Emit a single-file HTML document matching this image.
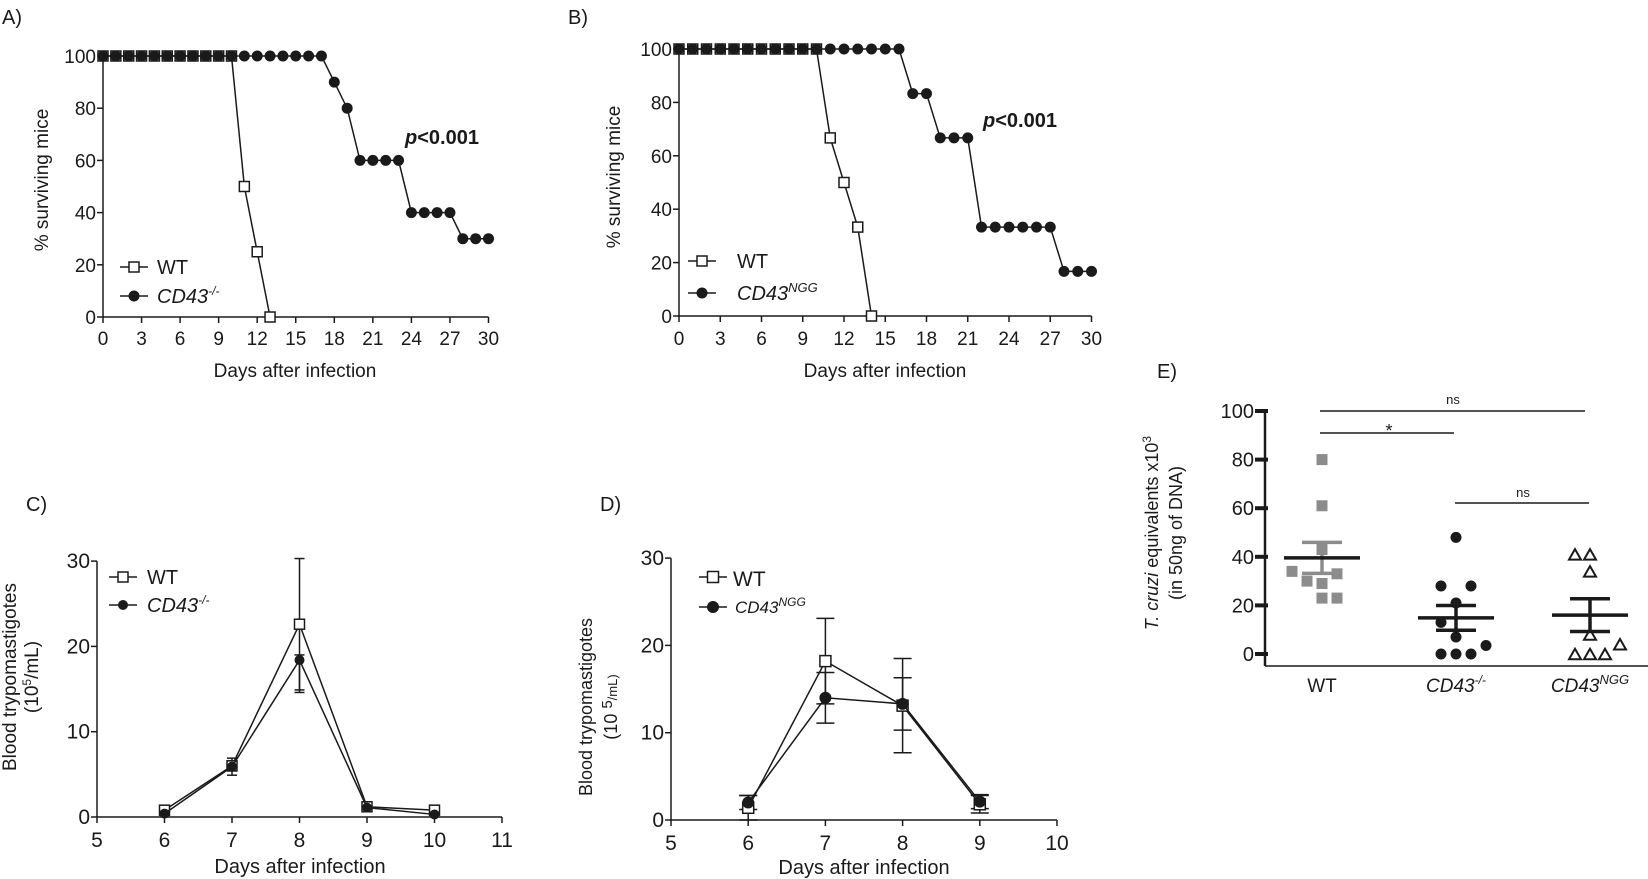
<!DOCTYPE html>
<html><head><meta charset="utf-8"><style>
html,body{margin:0;padding:0;background:#fff;}
svg{display:block;font-family:"Liberation Sans",Arial,sans-serif;}
</style></head><body>
<svg id="fig" width="1648" height="879" viewBox="0 0 1648 879" xmlns="http://www.w3.org/2000/svg">
<g fill="#1a1a1a" font-size="20">
<text x="2" y="24">A)</text>
<text x="568" y="24">B)</text>
<text x="26" y="511">C)</text>
<text x="600" y="511">D)</text>
<text x="1157" y="378">E)</text>
<text x="295" y="377" text-anchor="middle" font-size="19">Days after infection</text>
<text x="885" y="377" text-anchor="middle" font-size="19">Days after infection</text>
<text x="300" y="873" text-anchor="middle" font-size="20">Days after infection</text>
<text x="864" y="874" text-anchor="middle" font-size="20">Days after infection</text>
<text transform="translate(48,180) rotate(-90)" text-anchor="middle" font-size="19">% surviving mice</text>
<text transform="translate(620,177) rotate(-90)" text-anchor="middle" font-size="19">% surviving mice</text>
<text transform="translate(16,677) rotate(-90)" text-anchor="middle" font-size="19">Blood trypomastigotes</text>
<text transform="translate(38,677) rotate(-90)" text-anchor="middle" font-size="19">(10<tspan font-size="12" dy="-7">5</tspan><tspan dy="7">/mL)</tspan></text>
<text transform="translate(592,707) rotate(-90)" text-anchor="middle" font-size="18">Blood trypomastigotes</text>
<text transform="translate(617,707) rotate(-90)" text-anchor="middle" font-size="18">(10 <tspan font-size="15" dy="-5">5</tspan><tspan font-size="13" dy="5">/mL)</tspan></text>
<text transform="translate(1158,533) rotate(-90)" text-anchor="middle" font-size="18"><tspan font-style="italic">T. cruzi</tspan> equivalents x10<tspan font-size="12" dy="-7">3</tspan></text>
<text transform="translate(1182,533) rotate(-90)" text-anchor="middle" font-size="18">(in 50ng of DNA)</text>
<text x="405" y="144" font-size="20" font-weight="bold"><tspan font-style="italic">p</tspan>&lt;0.001</text>
<text x="983" y="127" font-size="20" font-weight="bold"><tspan font-style="italic">p</tspan>&lt;0.001</text>
<text x="157" y="274" font-size="20">WT</text>
<text x="157" y="303" font-size="20" font-style="italic">CD43<tspan font-size="12" dy="-8">-/-</tspan></text>
<text x="737" y="268" font-size="20">WT</text>
<text x="737" y="300" font-size="20" font-style="italic">CD43<tspan font-size="13" dy="-8">NGG</tspan></text>
<text x="147" y="584" font-size="20">WT</text>
<text x="147" y="612" font-size="20" font-style="italic">CD43<tspan font-size="12" dy="-8">-/-</tspan></text>
<text x="733" y="586" font-size="21">WT</text>
<text x="735" y="613" font-size="17" font-style="italic">CD43<tspan font-size="12" dy="-7">NGG</tspan></text>
<text x="1322" y="692" text-anchor="middle" font-size="19">WT</text>
<text x="1456" y="692" text-anchor="middle" font-size="19" font-style="italic">CD43<tspan font-size="12" dy="-8">-/-</tspan></text>
<text x="1590" y="692" text-anchor="middle" font-size="19" font-style="italic">CD43<tspan font-size="13" dy="-8">NGG</tspan></text>
<text x="1453" y="404" text-anchor="middle" font-size="13">ns</text>
<text x="1389" y="437" text-anchor="middle" font-size="18">*</text>
<text x="1523" y="497" text-anchor="middle" font-size="13">ns</text>
</g>
<g id="marks"></g>
</svg>
<script>
// ---- data ----
const survDays = [0,1,2,3,4,5,6,7,8,9,10,11,12,13,14,15,16,17,18,19,20,21,22,23,24,25,26,27,28,29,30];
const aWT = [100,100,100,100,100,100,100,100,100,100,100,50,25,0];
const aKO = [100,100,100,100,100,100,100,100,100,100,100,100,100,100,100,100,100,100,90,80,60,60,60,60,40,40,40,40,30,30,30];
const bWT = [100,100,100,100,100,100,100,100,100,100,100,66.7,50,33.3,0];
const bNGG = [100,100,100,100,100,100,100,100,100,100,100,100,100,100,100,100,100,83.3,83.3,66.7,66.7,66.7,33.3,33.3,33.3,33.3,33.3,33.3,16.7,16.7,16.7];
const survYTicks = [0,20,40,60,80,100];
const survXTicks = [0,3,6,9,12,15,18,21,24,27,30];

const cDays = [6,7,8,9,10];
const cWT = [0.8,6.0,22.6,1.2,0.8];
const cWTerr = [0.2,0.6,7.7,0.3,0.2];
const cKO = [0.4,5.9,18.4,1.1,0.3];
const cKOerrHi = [0.2,1.0,0.6,0.2,0.1];
const cKOerrLo = [0.2,1.0,3.8,0.2,0.1];
const cXTicks = [5,6,7,8,9,10,11];
const cYTicks = [0,10,20,30];

const dDays = [6,7,8,9];
const dWT = [1.4,18.2,13.1,1.8];
const dWTerr = [1.4,4.9,5.4,1.0];
const dNGG = [2.0,14.0,13.3,2.1];
const dNGGerr = [0.8,2.9,3.0,0.8];
const dXTicks = [5,6,7,8,9,10];
const dYTicks = [0,10,20,30];

const eGroups = ['WT','CD43-/-','CD43NGG'];
const eWT = [80,61,43,34,33,30,29,23,23];
const eKO = [48,28,28,21,13,7,3.5,0,0,0];
const eNGG = [41,41,34,8,4,0,0,0];
const eYTicks = [0,20,40,60,80,100];
// layout-only jitter (column slots)
const jitWT = [0,0,0,-2,1,-1,0,0,1];
const jitKO = [0,-1,1,0,-1,0,2,-1,0,1];
const jitNGG = [-1,0,0,0,2,-1,0,1];

// ---- scales ----
const xA = d => 103 + d*12.85, yA = v => 317 - v*2.61;
const xB = d => 679 + d*13.75, yB = v => 316 - v*2.67;
const xC = d => 97 + (d-5)*67.5, yC = v => 817 - v*8.53;
const xD = d => 671 + (d-5)*77.2, yD = v => 820 - v*8.73;
const yE = v => 654 - v*2.43;
const eCenters = [1322,1456,1590];

const NS = 'http://www.w3.org/2000/svg';
const root = document.getElementById('marks');
const INK = '#1a1a1a';
function mk(tag, attrs){ const e=document.createElementNS(NS,tag); for(const k in attrs) e.setAttribute(k,attrs[k]); root.appendChild(e); return e; }
function line(x1,y1,x2,y2,w,c){ return mk('line',{x1,y1,x2,y2,stroke:c||INK,'stroke-width':w||1.5}); }
function txt(x,y,s,size,anchor){ const t=mk('text',{x,y,'font-size':size,'text-anchor':anchor||'middle',fill:INK}); t.textContent=s; return t; }
function sq(x,y,s,fill,stroke){ return mk('rect',{x:x-s/2,y:y-s/2,width:s,height:s,fill:fill,stroke:stroke||INK,'stroke-width':1.5}); }
function dot(x,y,r){ return mk('circle',{cx:x,cy:y,r:r,fill:INK}); }
function tri(x,y,s){ const h=s*0.87; return mk('polygon',{points:`${x},${y-h/2} ${x-s/2},${y+h/2} ${x+s/2},${y+h/2}`,fill:'#fff',stroke:INK,'stroke-width':2}); }

function axes(pfx, xs, ys, xTicks, yTicks, x0, x1, y0, y1, fs, lblOffY){
  let e;
  e=line(xs(x0),ys(y0),xs(x1),ys(y0),1.5);
  
  
  e=line(xs(x0),ys(y0),xs(x0),ys(y1),1.5);
  
  
  xTicks.forEach(t=>{
    e=line(xs(t),ys(y0),xs(t),ys(y0)+6,1.5);
    
    
    e=txt(xs(t),ys(y0)+lblOffY,String(t),fs);
    
    
  });
  yTicks.forEach(t=>{
    e=line(xs(x0)-6,ys(t),xs(x0),ys(t),1.5);
    
    
    e=txt(xs(x0)-7,ys(t)+7,String(t),fs,'end');
    
    
  });
}
function series(pfx, xs, ys, xvals, vals, kind, size){
  let e=mk('polyline',{points:vals.map((v,i)=>xs(xvals[i])+','+ys(v)).join(' '),fill:'none',stroke:INK,'stroke-width':1.5});
  
  
  vals.forEach((v,i)=>{
    e = kind==='sq' ? sq(xs(xvals[i]),ys(v),size,'#fff') : dot(xs(xvals[i]),ys(v),size);
    
    
  });
}
function errs(pfx, xs, ys, xvals, vals, lo, hi, cap){
  vals.forEach((v,i)=>{
    const x=xs(xvals[i]);
    let e=line(x,ys(v-lo[i]),x,ys(v+hi[i]),1.5);
    
    
    e=line(x-cap,ys(v+hi[i]),x+cap,ys(v+hi[i]),1.5);
    
    
    e=line(x-cap,ys(v-lo[i]),x+cap,ys(v-lo[i]),1.5);
    
    
  });
}
function legend(pfx, x, y, kind, size){
  let e=line(x-14,y,x+14,y,1.5);
  
  
  e = kind==='sq' ? sq(x,y,size,'#fff') : dot(x,y,size);
  
  
}

// Panel A
axes('a', xA, yA, survXTicks, survYTicks, 0, 30, 0, 100, 19, 28);
series('a-wt', xA, yA, survDays, aWT, 'sq', 10);
series('a-ko', xA, yA, survDays, aKO, 'dot', 5.5);
legend('a-wt',134,267,'sq',10); legend('a-ko',134,296,'dot',5.5);
// Panel B
axes('b', xB, yB, survXTicks, survYTicks, 0, 30, 0, 100, 19, 29);
series('b-wt', xB, yB, survDays, bWT, 'sq', 10);
series('b-ngg', xB, yB, survDays, bNGG, 'dot', 5.5);
legend('b-wt',702,261,'sq',10); legend('b-ngg',702,293,'dot',5.5);
// Panel C
axes('c', xC, yC, cXTicks, cYTicks, 5, 11, 0, 30, 21, 30);
errs('c-wt', xC, yC, cDays, cWT, cWTerr, cWTerr, 5);
errs('c-ko', xC, yC, cDays, cKO, cKOerrLo, cKOerrHi, 5);
series('c-wt', xC, yC, cDays, cWT, 'sq', 10);
series('c-ko', xC, yC, cDays, cKO, 'dot', 5);
legend('c-wt',123,577,'sq',10); legend('c-ko',123,605,'dot',5);
// Panel D
axes('d', xD, yD, dXTicks, dYTicks, 5, 10, 0, 30, 21, 30);
errs('d-wt', xD, yD, dDays, dWT, dWTerr, dWTerr, 9);
errs('d-ngg', xD, yD, dDays, dNGG, dNGGerr, dNGGerr, 9);
series('d-wt', xD, yD, dDays, dWT, 'sq', 11);
series('d-ngg', xD, yD, dDays, dNGG, 'dot', 6);
legend('d-wt',713,577,'sq',11); legend('d-ngg',713,607,'dot',6);

// Panel E
(function(){
  let e=line(1265,666,1648,666,1.5);
  
  
  e=line(1265,yE(100),1265,666,2.5);
  
  
  eYTicks.forEach(t=>{
    e=line(1255,yE(t),1268,yE(t),4);
    
    
    e=txt(1254,yE(t)+7,String(t),20,'end');
    
    
  });
  const sets=[eWT,eKO,eNGG], jits=[jitWT,jitKO,jitNGG], names=['e-wt','e-ko','e-ngg'];
  sets.forEach((vals,g)=>{
    const cx=eCenters[g];
    const col = g===0 ? '#8c8c8c' : INK;
    vals.forEach((v,i)=>{
      const x=cx+jits[g][i]*15, y=yE(v);
      let p;
      if(g===0) p=mk('rect',{x:x-5.5,y:y-5.5,width:11,height:11,fill:'#8c8c8c'});
      else if(g===1) p=dot(x,y,5.5);
      else p=tri(x,y,12);
      
      
    });
    const n=vals.length, m=vals.reduce((a,b)=>a+b,0)/n;
    const sd=Math.sqrt(vals.reduce((a,b)=>a+(b-m)*(b-m),0)/(n-1)), sem=sd/Math.sqrt(n);
    let q=line(cx,yE(m-sem),cx,yE(m+sem),3.5,col);
    
    
    q=line(cx-20,yE(m+sem),cx+20,yE(m+sem),3.5,col);
    
    
    q=line(cx-20,yE(m-sem),cx+20,yE(m-sem),3.5,col);
    
    
    q=line(cx-38,yE(m),cx+38,yE(m),3.5,INK);
    
    
  });
  e=line(1320,411,1585,411,1.5);
  
  
  e=line(1320,433,1454,433,1.5);
  
  
  e=line(1455,503,1589,503,1.5);
  
  
})();
</script>
</body></html>
